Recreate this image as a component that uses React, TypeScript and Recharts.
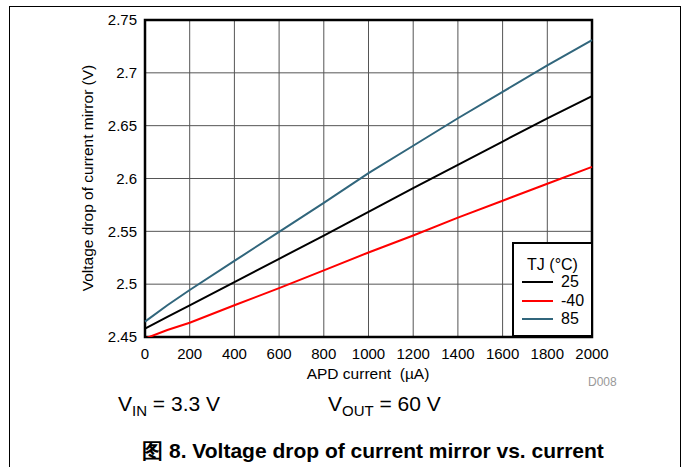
import { LineChart, Line, XAxis, YAxis, CartesianGrid, ReferenceArea } from 'recharts';

const currents = [0, 100, 200, 400, 600, 800, 1000, 1200, 1400, 1600, 1800, 2000];
const tj25 = [2.458, 2.469, 2.48, 2.502, 2.524, 2.546, 2.5685, 2.591, 2.613, 2.635, 2.657, 2.678];
const tjMinus40 = [2.4485, 2.4566, 2.4635, 2.48, 2.4962, 2.513, 2.53, 2.546, 2.563, 2.579, 2.595, 2.611];
const tj85 = [2.4645, 2.48, 2.4945, 2.522, 2.5495, 2.577, 2.605, 2.631, 2.657, 2.682, 2.707, 2.731];

const xTicks = [0, 200, 400, 600, 800, 1000, 1200, 1400, 1600, 1800, 2000];
const yTicks = [2.45, 2.5, 2.55, 2.6, 2.65, 2.7, 2.75];

const series = [
  { key: 't25', name: '25', color: '#000000' },
  { key: 'tm40', name: '-40', color: '#ff0000' },
  { key: 't85', name: '85', color: '#31667c' },
];

const data = currents.map((c, i) => ({ x: c, t25: tj25[i], tm40: tjMinus40[i], t85: tj85[i] }));

const font = '"Liberation Sans", Arial, Helvetica, sans-serif';

// legend box sits over the lower right corner of the plot
function LegendBox() {
  return (
    <div
      style={{
        position: 'absolute',
        left: 512,
        top: 242,
        width: 77,
        height: 91,
        border: '2px solid #000',
        background: '#fff',
        fontFamily: font,
        fontSize: 16,
        color: '#000',
      }}
    >
      <div style={{ position: 'absolute', left: 0, right: 0, top: 21, transform: 'translateY(-50%)', textAlign: 'center', lineHeight: '18px' }}>
        TJ (°C)
      </div>
      {series.map((s, i) => (
        <div key={s.key}>
          <div style={{ position: 'absolute', left: 8, top: 37 + i * 18.5, width: 31, height: 2, background: s.color }} />
          <div style={{ position: 'absolute', left: 47, top: 38 + i * 18.5, transform: 'translateY(-50%)', lineHeight: '18px' }}>
            {s.name}
          </div>
        </div>
      ))}
    </div>
  );
}

export default function App() {
  return (
    <div style={{ position: 'absolute', left: 0, top: 0, width: 683, height: 467, background: '#fff', overflow: 'hidden' }}>
      <div
        style={{
          position: 'absolute',
          left: 9,
          top: 6,
          width: 670,
          height: 480,
          borderTop: '1.5px solid #000',
          borderLeft: '1.5px solid #000',
          borderRight: '1.5px solid #000',
        }}
      />
      <LineChart
        width={683}
        height={467}
        data={data}
        margin={{ top: 20, right: 91, left: 0, bottom: 100 }}
        style={{ position: 'absolute', left: 0, top: 0 }}
      >
        <CartesianGrid stroke="#555" strokeWidth={1} horizontalValues={yTicks} verticalValues={xTicks} />
        <XAxis
          dataKey="x"
          type="number"
          domain={[0, 2000]}
          ticks={xTicks}
          height={30}
          tickLine={false}
          axisLine={false}
          tickSize={0}
          tickMargin={11}
          tick={{ fill: '#000', fontSize: 15, fontFamily: font }}
          interval={0}
        />
        <YAxis
          type="number"
          domain={[2.45, 2.75]}
          ticks={yTicks}
          allowDataOverflow
          width={145}
          tickLine={false}
          axisLine={false}
          tickSize={0}
          tickMargin={8}
          tick={{ fill: '#000', fontSize: 15, fontFamily: font }}
          interval={0}
        />
        {series.map((s) => (
          <Line
            key={s.key}
            dataKey={s.key}
            name={s.name}
            type="linear"
            stroke={s.color}
            strokeWidth={2}
            dot={false}
            isAnimationActive={false}
          />
        ))}
        <ReferenceArea x1={0} x2={2000} y1={2.45} y2={2.75} fill="none" stroke="#000" strokeWidth={2.5} fillOpacity={0} />
      </LineChart>
      <LegendBox />
      <div
        style={{
          position: 'absolute',
          left: 88,
          top: 178,
          transform: 'translate(-50%, -50%) rotate(-90deg)',
          whiteSpace: 'nowrap',
          fontFamily: font,
          fontSize: 15.5,
          color: '#000',
        }}
      >
        Voltage drop of current mirror (V)
      </div>
      <div
        style={{
          position: 'absolute',
          left: 368,
          top: 374,
          transform: 'translate(-50%, -50%)',
          whiteSpace: 'nowrap',
          fontFamily: font,
          fontSize: 15.5,
          color: '#000',
        }}
      >
        APD current&nbsp; (µA)
      </div>
      <div
        style={{ position: 'absolute', left: 588, top: 375, fontFamily: font, fontSize: 12, color: '#999' }}
      >
        D008
      </div>
      <div style={{ position: 'absolute', left: 118, top: 393, fontFamily: font, fontSize: 21, lineHeight: '21px', color: '#000', whiteSpace: 'nowrap' }}>
        V<sub style={{ fontSize: 15, lineHeight: 0 }}>IN</sub> = 3.3 V
      </div>
      <div style={{ position: 'absolute', left: 328, top: 393, fontFamily: font, fontSize: 21, lineHeight: '21px', color: '#000', whiteSpace: 'nowrap' }}>
        V<sub style={{ fontSize: 15, lineHeight: 0 }}>OUT</sub> = 60 V
      </div>
      <div
        style={{
          position: 'absolute',
          left: 373,
          top: 451,
          transform: 'translate(-50%, -50%)',
          whiteSpace: 'nowrap',
          fontFamily: font,
          fontSize: 21,
          fontWeight: 'bold',
          color: '#000',
        }}
      >
        图 8. Voltage drop of current mirror vs. current
      </div>
    </div>
  );
}
